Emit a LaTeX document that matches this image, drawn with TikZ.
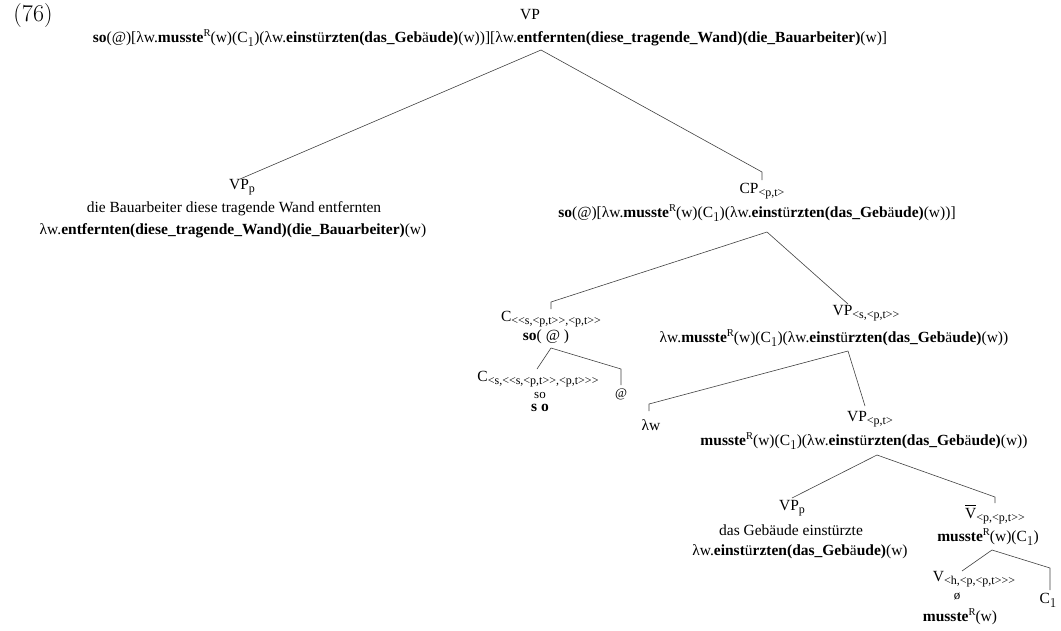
\documentclass[tikz,border=0pt]{standalone}
\usepackage{fontspec}
\newfontfamily\tms{Liberation Serif}
\newcommand{\sbs}[1]{\raisebox{-0.22em}{\fontsize{12}{12}\selectfont #1}}
\newcommand{\ms}{\textbf{musste}\raisebox{0.4em}{\fontsize{10.5}{10.5}\selectfont R}}
\newcommand{\Cone}{C\raisebox{-0.25em}{\fontsize{13.5}{13.5}\selectfont\rmfamily 1}}
\newcommand{\ein}{\textbf{einst}ü\textbf{rzten}}
\newcommand{\geb}{\textbf{(das\_Geb}ä\textbf{ude)}}
\newcommand{\Vbar}{\rlap{\rule[12.4pt]{11pt}{0.7pt}}V}
\tikzset{
  lbl/.style={inner sep=0pt, font=\tms\fontsize{15.5}{18}\selectfont},
  sml/.style={inner sep=0pt, font=\tms\fontsize{13}{15}\selectfont},
  edge/.style={line width=0.6pt, black!75}
}
\begin{document}
\begin{tikzpicture}[x=1pt,y=-1pt]
\useasboundingbox (0,0) rectangle (1061,630);
\node[inner sep=0pt, font=\fontsize{24}{28}\selectfont] (num) at (33,16) {(76)};
% root
\node[lbl] (vp0) at (530,15) {VP};
\node[lbl] (vp0s) at (490,38) {\textbf{so}(@)[λw.\ms(w)(\Cone)(λw.\ein\geb(w))][λw.\textbf{entfernten(diese\_tragende\_Wand)(die\_Bauarbeiter)}(w)]};
\coordinate (a0) at (541,50);
% VPp left
\coordinate (e1) at (240,179);
\node[lbl] (vpp) at (242,187) {VP\sbs{p}};
\node[lbl] (vppt) at (234,209) {die Bauarbeiter diese tragende Wand entfernten};
\node[lbl] (vpps) at (233,231) {λw.\textbf{entfernten(diese\_tragende\_Wand)(die\_Bauarbeiter)}(w)};
% CP
\coordinate (e2) at (762,172);
\coordinate (t2) at (762,180);
\node[lbl] (cp) at (762,191) {CP\sbs{<p,t>}};
\node[lbl] (cps) at (757,213) {\textbf{so}(@)[λw.\ms(w)(\Cone)(λw.\ein\geb(w))]};
\coordinate (a2) at (767,232);
% C
\coordinate (e3) at (551,302);
\coordinate (t3) at (551,309);
\node[lbl] (c1) at (551,319) {C\sbs{<<s,<p,t>>,<p,t>>}};
\node[lbl] (c1s) at (546,337) {\textbf{so}( @ )};
\coordinate (a3) at (551,348);
\coordinate (e4) at (537,369);
\node[lbl] (c2) at (538,379) {C\sbs{<s,<<s,<p,t>>,<p,t>>>}};
\node[sml] (c2a) at (540,395) {so};
\node[lbl] (c2b) at (540,408) {\textbf{s o}};
\coordinate (e5) at (621,369);
\coordinate (t5) at (621,385);
\node[sml] (at) at (621,394) {@};
% VP<s,<p,t>>
\coordinate (e6) at (848,304);
\node[lbl] (vp1) at (866,313) {VP\sbs{<s,<p,t>>}};
\node[lbl] (vp1s) at (834,338) {λw.\ms(w)(\Cone)(λw.\ein\geb(w))};
\coordinate (a6) at (848,351);
\coordinate (e7) at (649,404);
\coordinate (t7) at (649,411);
\node[lbl] (lw) at (651,425) {λw};
\coordinate (e8) at (865,406);
\node[lbl] (vp2) at (870,419) {VP\sbs{<p,t>}};
\node[lbl] (vp2s) at (864,441) {\ms(w)(\Cone)(λw.\ein\geb(w))};
\coordinate (a8) at (877,455);
% VPp lower
\coordinate (e9) at (792,498);
\node[lbl] (vpp2) at (792,508) {VP\sbs{p}};
\node[lbl] (vpp2t) at (791,530) {das Gebäude einstürzte};
\node[lbl] (vpp2s) at (800,552) {λw.\ein\geb(w)};
% Vbar
\coordinate (e10) at (995,497);
\coordinate (t10) at (995,503);
\node[lbl] (vb) at (995,515) {\Vbar\sbs{<p,<p,t>>}};
\node[lbl] (vbs) at (988,537) {\ms(w)(\Cone)};
\coordinate (a10) at (992,550);
\coordinate (e11) at (962,571);
\node[lbl] (v) at (974,579) {V\sbs{<h,<p,<p,t>>>}};
\node[sml] (vo) at (957,597) {ø};
\node[lbl] (vs) at (960,617) {\ms(w)};
\coordinate (e12) at (1050,568);
\coordinate (t12) at (1050,590);
\node[lbl] (cc) at (1048,600) {\Cone};
% edges
\draw[edge] (a0) -- (e1);
\draw[edge] (a0) -- (e2) -- (t2);
\draw[edge] (a2) -- (e3) -- (t3);
\draw[edge] (a2) -- (e6);
\draw[edge] (a3) -- (e4);
\draw[edge] (a3) -- (e5) -- (t5);
\draw[edge] (a6) -- (e7) -- (t7);
\draw[edge] (a6) -- (e8);
\draw[edge] (a8) -- (e9);
\draw[edge] (a8) -- (e10) -- (t10);
\draw[edge] (a10) -- (e11);
\draw[edge] (a10) -- (e12) -- (t12);
\end{tikzpicture}
\end{document}
